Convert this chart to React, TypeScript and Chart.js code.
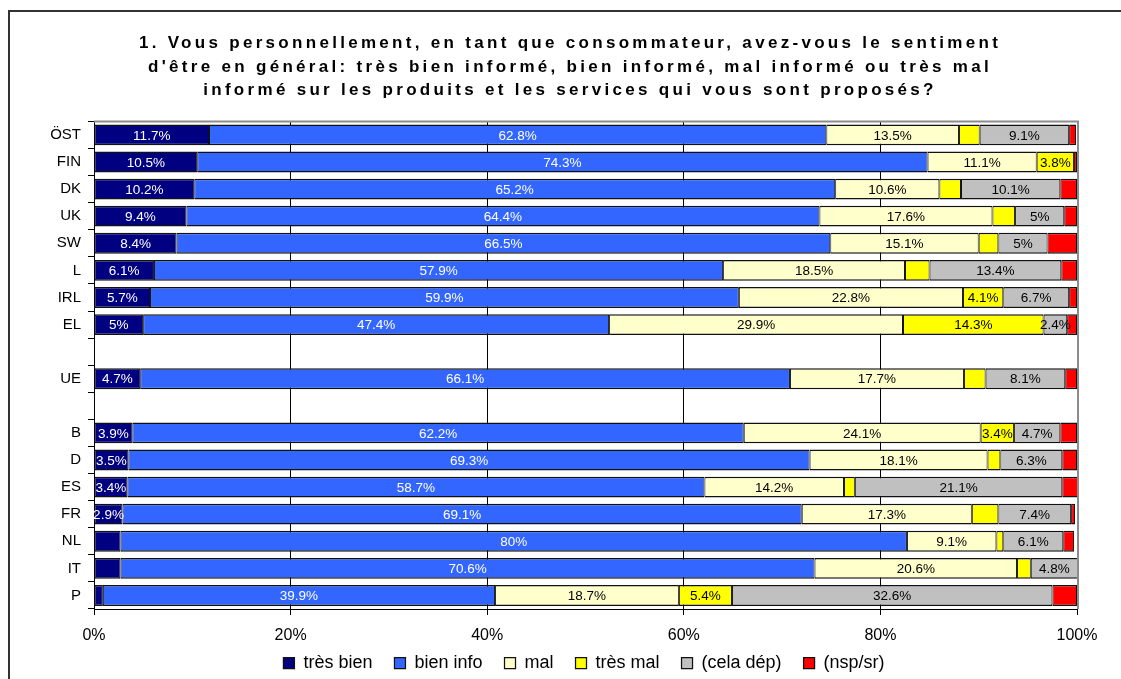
import React, { useEffect, useRef } from "react";
import { Chart, registerables } from "chart.js";

Chart.register(...registerables);

const categories = ["ÖST", "FIN", "DK", "UK", "SW", "L", "IRL", "EL", "", "UE", "", "B", "D", "ES", "FR", "NL", "IT", "P"];
const tresBien = [11.7, 10.5, 10.2, 9.4, 8.4, 6.1, 5.7, 5, null, 4.7, null, 3.9, 3.5, 3.4, 2.9, 2.7, 2.7, 0.9];
const bienInfo = [62.8, 74.3, 65.2, 64.4, 66.5, 57.9, 59.9, 47.4, null, 66.1, null, 62.2, 69.3, 58.7, 69.1, 80, 70.6, 39.9];
const mal = [13.5, 11.1, 10.6, 17.6, 15.1, 18.5, 22.8, 29.9, null, 17.7, null, 24.1, 18.1, 14.2, 17.3, 9.1, 20.6, 18.7];
const tresMal = [2.1, 3.8, 2.2, 2.3, 2.0, 2.5, 4.1, 14.3, null, 2.2, null, 3.4, 1.3, 1.1, 2.7, 0.7, 1.4, 5.4];
const celaDep = [9.1, null, 10.1, 5, 5, 13.4, 6.7, 2.4, null, 8.1, null, 4.7, 6.3, 21.1, 7.4, 6.1, 4.8, 32.6];
const nspSr = [0.7, 0.3, 1.7, 1.3, 3.0, 1.6, 0.8, 1.0, null, 1.2, null, 1.7, 1.5, 1.6, 0.4, 1.1, null, 2.5];

const seriesNames = ["très bien", "bien info", "mal", "très mal", "(cela dép)", "(nsp/sr)"];
const seriesValues = [tresBien, bienInfo, mal, tresMal, celaDep, nspSr];
const seriesColors = ["#000080", "#3366FF", "#FFFFCC", "#FFFF00", "#C0C0C0", "#FF0000"];
const labelColors = ["#FFFFFF", "#FFFFFF", "#000000", "#000000", "#000000", "#000000"];
const labelMinimum = [2.8, 2.8, 2.8, 3, 2, 1000];

const xTickStep = 20;
const titleLines = [
  "1. Vous personnellement, en tant que consommateur, avez-vous le sentiment",
  "d'être en général: très bien informé, bien informé, mal informé ou très mal",
  "informé sur les produits et les services qui vous sont proposés?",
];

const FONT = "'Liberation Sans', Arial, sans-serif";
const LEGEND_HEIGHT = 30;
const LEGEND_PAD = 22;
const LEGEND_FONT = 18;

const segmentLabels = {
  id: "segmentLabels",
  afterDatasetsDraw(chart: any) {
    const ctx = chart.ctx;
    ctx.save();
    ctx.font = `13.5px ${FONT}`;
    ctx.textAlign = "center";
    ctx.textBaseline = "middle";
    chart.data.datasets.forEach((ds: any, di: number) => {
      const meta = chart.getDatasetMeta(di);
      meta.data.forEach((el: any, i: number) => {
        const v = ds.data[i];
        if (v == null || v < labelMinimum[di]) return;
        const p = el.getProps(["x", "y", "base"], true);
        ctx.fillStyle = labelColors[di];
        ctx.fillText(`${v}%`, (p.x + p.base) / 2, p.y + 1);
      });
    });
    ctx.restore();
  },
};

const plotFrame = {
  id: "plotFrame",
  beforeDatasetsDraw(chart: any) {
    const { left, right, top, bottom } = chart.chartArea;
    const ctx = chart.ctx;
    ctx.save();
    ctx.strokeStyle = "#8C8C8C";
    ctx.lineWidth = 2;
    ctx.beginPath();
    ctx.moveTo(left, top);
    ctx.lineTo(right + 1, top);
    ctx.lineTo(right + 1, bottom);
    ctx.stroke();
    ctx.restore();
  },
};

const legendHeight = {
  id: "legendHeight",
  afterInit(chart: any) {
    const lg = chart.legend;
    if (!lg || lg.__patched) return;
    const origFit = lg.fit.bind(lg);
    lg.fit = function () {
      origFit();
      this.height = LEGEND_HEIGHT;
    };
    const origDraw = lg.draw.bind(lg);
    lg.draw = function () {
      const ctx = this.ctx;
      ctx.save();
      const dx = 584 - (this.left + this.right) / 2;
      const dy = 663 - (this.top + LEGEND_PAD + LEGEND_FONT / 2);
      ctx.translate(dx, dy);
      if (typeof this._draw === "function") this._draw();
      else origDraw();
      ctx.restore();
    };
    lg.__patched = true;
  },
};

export default function App() {
  const ref = useRef<HTMLCanvasElement | null>(null);

  useEffect(() => {
    if (!ref.current) return;
    Chart.defaults.font.family = FONT;
    const chart: any = new Chart(ref.current, {
      type: "bar",
      data: {
        labels: categories,
        datasets: seriesNames.map((name, i) => ({
          label: name,
          data: seriesValues[i],
          backgroundColor: seriesColors[i],
          borderColor: "#111111",
          borderWidth: { top: 1.5, bottom: 1.5, left: 1, right: 1 },
          borderSkipped: false,
          barPercentage: 0.77,
          categoryPercentage: 1,
        })),
      },
      options: {
        indexAxis: "y",
        animation: false,
        responsive: false,
        layout: { padding: { left: 20, right: 44, top: 0, bottom: 0 } },
        plugins: {
          title: {
            display: true,
            text: titleLines,
            color: "#000",
            font: { size: 17, weight: "bold", family: FONT, lineHeight: 1.38 },
            padding: { top: 32, bottom: 19 },
          },
          legend: {
            position: "bottom",
            labels: {
              boxWidth: 11,
              boxHeight: 11,
              color: "#000",
              font: { size: LEGEND_FONT, family: FONT },
              padding: LEGEND_PAD,
            },
          },
          tooltip: { enabled: false },
        },
        scales: {
          x: {
            stacked: true,
            min: 0,
            max: 100,
            ticks: {
              stepSize: xTickStep,
              callback: (v: any) => `${v}%`,
              color: "#000",
              font: { size: 16, family: FONT },
              padding: 11,
            },
            grid: {
              color: (c: any) => (c.tick && c.tick.value === 100 ? "rgba(0,0,0,0)" : "#000"),
              tickColor: "#000",
              tickLength: 6,
              lineWidth: 1,
            },
            border: { color: "#000", width: 1 },
            afterFit: (s: any) => {
              s.height = 40;
            },
          },
          y: {
            stacked: true,
            ticks: { color: "#000", font: { size: 15, family: FONT }, padding: 7 },
            grid: { drawOnChartArea: false, tickLength: 6, color: "#000", offset: true },
            border: { color: "#000", width: 1 },
            afterFit: (s: any) => {
              s.width = 74;
            },
          },
        },
      },
      plugins: [legendHeight, plotFrame, segmentLabels],
    });

    const tb = chart.titleBlock;
    if (tb) {
      const orig = tb.draw.bind(tb);
      tb.draw = function () {
        const ctx = this.ctx;
        ctx.save();
        ctx.letterSpacing = "3.3px";
        ctx.translate(570 - (this.left + this.right) / 2, 0);
        orig();
        ctx.restore();
      };
    }
    chart.draw();

    return () => chart.destroy();
  }, []);

  return (
    <div style={{ position: "fixed", left: 0, top: 0, width: 1121, height: 679, background: "#fff", overflow: "hidden" }}>
      <div
        style={{
          position: "absolute",
          left: 8,
          top: 10,
          width: 1200,
          height: 800,
          borderLeft: "2px solid #333",
          borderTop: "2px solid #333",
        }}
      />
      <canvas ref={ref} width={1121} height={679} style={{ position: "absolute", left: 0, top: 0 }} />
    </div>
  );
}
